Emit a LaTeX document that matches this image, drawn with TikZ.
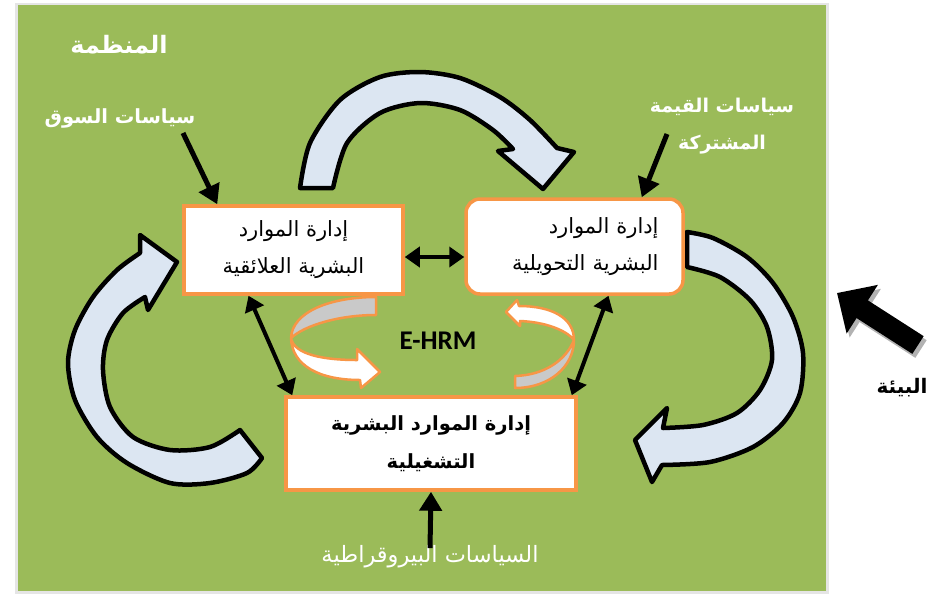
\documentclass[tikz,border=0pt]{standalone}
\usepackage{fontspec}
\setmainfont{Liberation Sans}
\newfontfamily\arabicfont[Script=Arabic]{DejaVu Sans}
\newfontfamily\ehrmfont{Carlito}
\usetikzlibrary{arrows.meta,positioning}
\TeXXeTstate=1
\newcommand{\artxt}[1]{{\arabicfont\beginR #1\endR}}
\definecolor{orgGreen}{HTML}{9BBB59}
\definecolor{hrOrange}{HTML}{F79646}
\definecolor{arrFill}{HTML}{DCE6F2}
\definecolor{ribGray}{HTML}{C9C9C9}

\begin{document}
\begin{tikzpicture}[x=1pt, y=-1pt,
  box/.style = {draw=hrOrange, line width=3.5pt, fill=white, align=center, inner sep=0pt},
  lbl/.style = {text=white, font=\bfseries\fontsize{19.5}{37}\selectfont, align=center},
  bigarr/.style = {draw=black, line width=4.5pt, fill=arrFill, line join=round},
  rib/.style = {draw=hrOrange, line width=2.5pt, line join=round},
  feed/.style = {line width=5pt, -{Triangle[length=19pt,width=22pt]}},
  dbl/.style = {line width=4pt, {Triangle[length=15pt,width=20pt]}-{Triangle[length=15pt,width=20pt]}}]
\useasboundingbox (0,0) rectangle (933,598);
\fill[black!10] (15,3) rectangle (829,594);
\fill[orgGreen] (18,5) rectangle (826,591);

% big cycle arrows
\draw[bigarr] plot[smooth] coordinates {(300,188) (310,143) (340,100) (380,77) (420,72) (460,78) (500,97) (530,120) (557,148)}
  -- (574,152) -- (543,189) -- (498,151)
  -- plot[smooth] coordinates {(513,149) (493,130) (460,110) (420,103) (380,113) (347,143) (333,188)} -- cycle;
\draw[bigarr] plot[smooth] coordinates {(262,458) (247,473) (210,483) (170,483) (127,463) (97,437) (75,400) (68,363) (75,330) (93,297) (117,270) (140,253)}
  -- (140,235) -- (177,262) -- (148,310)
  -- plot[smooth] coordinates {(145,297) (123,313) (107,340) (103,370) (110,407) (133,437) (170,450) (210,447) (240,430)} -- cycle;
\draw[bigarr] plot[smooth] coordinates {(687,232) (713,238) (747,257) (773,283) (793,317) (803,353) (800,393) (783,423) (753,447) (710,462) (662,465)}
  -- (652,482) -- (635,440) -- (667,408)
  -- plot[smooth] coordinates {(663,428) (703,425) (737,413) (760,390) (772,360) (767,327) (750,300) (720,277) (687,267)} -- cycle;

\node[box, minimum width=219pt, minimum height=88pt, font=\fontsize{21}{37}\selectfont] (rel) at (293.5,250)
  {\artxt{إدارة الموارد}\\\artxt{البشرية العلائقية}};
\node[box, minimum width=217pt, minimum height=95pt, rounded corners=14pt, text width=168pt, align=right,
  font=\fontsize{21}{37}\selectfont] (trans) at (574.5,246.5)
  {\artxt{إدارة الموارد}\\\artxt{البشرية التحويلية}};
\node[box, minimum width=290pt, minimum height=93pt, font=\bfseries\fontsize{19.5}{38}\selectfont] (ops) at (431,443.5)
  {\artxt{إدارة الموارد البشرية}\\\artxt{التشغيلية}};

% E-HRM ribbons
\draw[rib, fill=ribGray] (376,297) .. controls (330,297) and (292,312) .. (291,338) .. controls (305,325) and (340,315) .. (376,315) -- cycle;
\draw[rib, fill=white] (291,338) .. controls (294,355) and (325,360) .. (357,360) -- (357,349) -- (380,372) -- (361,388) -- (360,380) .. controls (320,380) and (292,366) .. (291,338) -- cycle;
\draw[rib, fill=white] (519,306) .. controls (552,306) and (574,318) .. (574,340) .. controls (566,330) and (545,322) .. (520,321) -- (520,326) -- (506,312) -- (517,300) -- cycle;
\draw[rib, fill=ribGray] (574,340) .. controls (574,366) and (550,388) .. (515,388) -- (515,376) .. controls (545,375) and (566,360) .. (574,340) -- cycle;
\node[font=\ehrmfont\bfseries\fontsize{27}{30}\selectfont] (ehrm) at (438,341) {E-HRM};

\node[lbl, font=\bfseries\fontsize{24}{28}\selectfont] (org) at (119,45) {\artxt{المنظمة}};
\node[lbl] (mkt) at (120,118) {\artxt{سياسات السوق}};
\node[lbl, font=\bfseries\fontsize{19}{37}\selectfont] (val) at (722,126) {\artxt{سياسات القيمة}\\\artxt{المشتركة}};
\node[lbl, font=\fontsize{22.5}{26}\selectfont] (bur) at (430,557) {\artxt{السياسات البيروقراطية}};
\node[font=\bfseries\fontsize{20}{24}\selectfont] (env) at (902,388) {\artxt{البيئة}};

\coordinate (mktT) at (183,133);
\coordinate (valT) at (667,134);
\coordinate (envT) at (918,345);
\coordinate (envH) at (837,293);
\draw[feed] (mktT) -- ([xshift=35pt]rel.north west);
\draw[feed] (valT) -- ([xshift=-43pt]trans.north east);
\draw[feed] ([yshift=-6pt]bur.north) -- (ops.south);

\draw[dbl] ([yshift=-7pt]rel.east) -- ([yshift=-7pt]rel.east -| trans.west);
\draw[dbl] ([xshift=-45pt]rel.south) -- ([xshift=8pt]ops.north west);
\draw[dbl] ([xshift=34pt]trans.south) -- ([xshift=-6pt]ops.north east);

\draw[line width=21pt, black!30, -{Triangle[length=30pt,width=56pt]}] ([shift={(3,4)}]envT) -- ([shift={(3,4)}]envH);
\draw[line width=21pt, -{Triangle[length=30pt,width=56pt]}] (envT) -- (envH);
\end{tikzpicture}
\end{document}
